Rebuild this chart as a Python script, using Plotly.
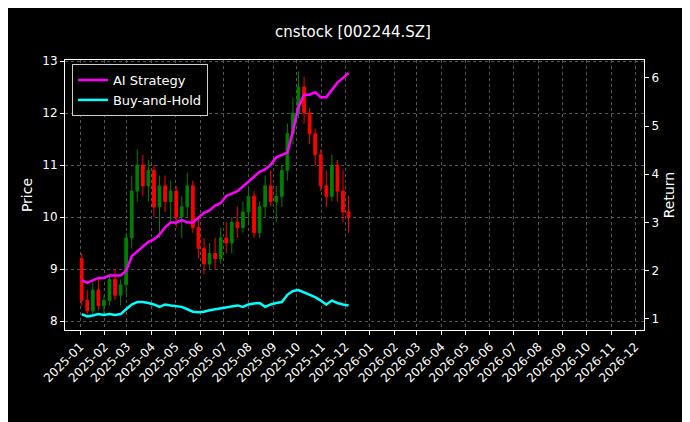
import pandas as pd
import plotly.graph_objects as go

# weekly bars
dates = pd.date_range("2025-01-03", periods=49, freq="7D")
opens = [9.2, 8.4, 8.2, 8.6, 8.3, 8.4, 8.8, 8.5, 8.7, 9.6, 10.5, 11.0, 10.6, 10.9, 10.2, 10.6, 10.3,
         10.5, 10.0, 10.2, 10.6, 9.8, 9.4, 9.1, 9.3, 9.2, 9.6, 9.5, 9.9, 9.8, 10.1, 10.4, 9.7, 10.2,
         10.6, 10.3, 10.4, 10.9, 11.6, 12.0, 12.5, 12.0, 11.6, 11.2, 10.6, 10.4, 11.0, 10.5, 10.1]
highs = [9.3, 8.6, 8.8, 8.8, 8.5, 8.9, 9.0, 8.8, 9.7, 10.8, 11.3, 11.2, 11.1, 11.0, 10.8, 10.8, 10.7,
         10.6, 10.4, 10.85, 10.7, 10.0, 9.6, 9.5, 9.6, 9.8, 9.9, 10.0, 10.2, 10.3, 10.6, 10.5, 10.3, 10.8,
         10.9, 10.6, 11.0, 11.8, 12.3, 12.8, 12.7, 12.1, 11.7, 11.3, 10.9, 11.2, 11.1, 10.9, 10.4]
lows = [8.3, 8.1, 8.1, 8.2, 8.1, 8.3, 8.4, 8.3, 8.5, 9.4, 10.3, 10.4, 10.3, 10.0, 9.6, 10.1, 9.9,
        9.8, 9.6, 10.0, 9.7, 9.2, 8.9, 9.0, 9.0, 9.1, 9.3, 9.3, 9.6, 9.7, 9.9, 9.6, 9.6, 10.0,
        10.2, 9.9, 10.2, 10.7, 11.4, 11.9, 11.8, 11.4, 11.0, 10.5, 10.2, 10.3, 10.3, 9.9, 9.7]
closes = [8.4, 8.2, 8.6, 8.3, 8.4, 8.8, 8.5, 8.7, 9.6, 10.5, 11.0, 10.6, 10.9, 10.2, 10.6, 10.3, 10.5,
          10.0, 10.2, 10.6, 9.8, 9.4, 9.1, 9.3, 9.2, 9.6, 9.5, 9.9, 9.8, 10.1, 10.4, 9.7, 10.2, 10.6,
          10.3, 10.4, 10.9, 11.6, 12.0, 12.5, 12.0, 11.6, 11.2, 10.6, 10.4, 11.0, 10.5, 10.1, 10.0]
strategy = [1.8, 1.75, 1.8, 1.85, 1.85, 1.9, 1.9, 1.9, 2.0, 2.3, 2.4, 2.5, 2.6, 2.65, 2.75, 2.9, 3.0,
            3.0, 3.05, 3.0, 3.0, 3.1, 3.2, 3.25, 3.35, 3.4, 3.55, 3.6, 3.65, 3.75, 3.85, 3.95, 4.05,
            4.1, 4.2, 4.35, 4.4, 4.45, 4.9, 5.4, 5.65, 5.65, 5.7, 5.6, 5.6, 5.75, 5.9, 6.0, 6.1]
buy_hold = [1.1, 1.05, 1.07, 1.1, 1.08, 1.1, 1.08, 1.1, 1.2, 1.3, 1.35, 1.35, 1.33, 1.3, 1.25, 1.3,
            1.28, 1.27, 1.25, 1.2, 1.15, 1.14, 1.15, 1.18, 1.2, 1.22, 1.25, 1.27, 1.28, 1.25, 1.3,
            1.32, 1.33, 1.25, 1.3, 1.33, 1.35, 1.5, 1.58, 1.6, 1.55, 1.5, 1.45, 1.38, 1.3, 1.38,
            1.33, 1.3, 1.28]
month_ticks = pd.date_range("2025-01-01", "2026-12-01", freq="MS")

fig = go.Figure()
fig.add_trace(go.Candlestick(
    x=dates, open=opens, high=highs, low=lows, close=closes,
    increasing=dict(line=dict(color="green", width=1), fillcolor="green"),
    decreasing=dict(line=dict(color="red", width=1), fillcolor="red"),
    whiskerwidth=0, showlegend=False, name="Price",
))
fig.add_trace(go.Scatter(x=dates, y=strategy, name="AI Strategy", yaxis="y2",
                         mode="lines", line=dict(color="#ff00ff", width=2.5)))
fig.add_trace(go.Scatter(x=dates, y=buy_hold, name="Buy-and-Hold", yaxis="y2",
                         mode="lines", line=dict(color="#00ffff", width=2.5)))

grid = dict(showgrid=True, gridcolor="#555", griddash="dot", gridwidth=0.5,
            showline=True, linecolor="white", linewidth=1, ticks="outside",
            tickcolor="white", ticklen=4, zeroline=False)
fig.update_layout(
    width=690, height=422,
    paper_bgcolor="black", plot_bgcolor="black",
    font=dict(family="DejaVu Sans", color="white", size=12),
    margin=dict(l=57, r=54, t=52, b=100),
    title=dict(text="cnstock [002244.SZ]", x=0.5, xanchor="center", y=0.955, font=dict(size=15)),
    xaxis=dict(**grid, type="date", range=["2024-12-13", "2026-12-12"], rangeslider=dict(visible=False),
               tickmode="array", tickvals=month_ticks, ticktext=[d.strftime("%Y-%m") for d in month_ticks],
               tickangle=-45, mirror=True),
    yaxis=dict(**grid, title=dict(text="Price", standoff=6), range=[7.83, 13.02], dtick=1, mirror=True),
    yaxis2=dict(overlaying="y", side="right", range=[0.77, 6.37], dtick=1, showgrid=False,
                title=dict(text="Return", standoff=6), ticks="outside", tickcolor="white", ticklen=4,
                showline=True, linecolor="white", zeroline=False),
    legend=dict(x=0.012, y=0.985, xanchor="left", yanchor="top", bgcolor="black",
                bordercolor="#ccc", borderwidth=1, font=dict(size=13)),
)
fig.write_html("out.html")
